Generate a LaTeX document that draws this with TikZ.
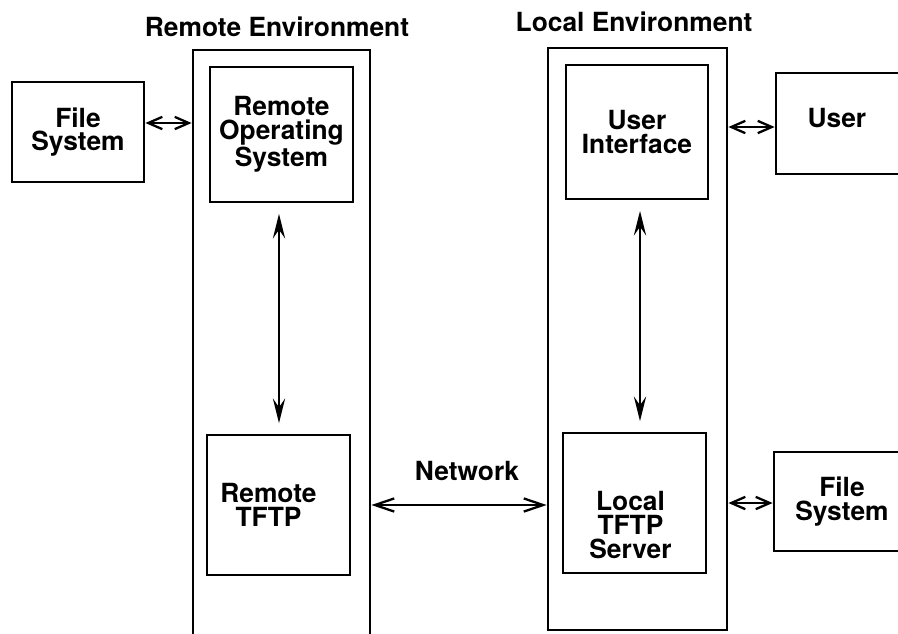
\documentclass[tikz,border=0pt]{standalone}
\usepackage{fontspec}
\setmainfont{TeX Gyre Heros}
\usetikzlibrary{arrows.meta}

\begin{document}
\begin{tikzpicture}[x=0.02cm,y=-0.02cm,
  font=\bfseries\fontsize{15}{13.5}\selectfont,
  box/.style={rectangle,draw=black,line width=1.6pt,align=center},
  envbox/.style={rectangle,draw=black,line width=1.6pt},
  pair/.style={{Straight Barb[length=8pt,width=7pt]}-{Straight Barb[length=8pt,width=7pt]},line width=1.3pt},
  wire/.style={{Straight Barb[length=11pt,width=7.5pt]}-{Straight Barb[length=11pt,width=7.5pt]},line width=1.3pt},
  pipe/.style={{Stealth[length=14pt,width=7pt,inset=5pt]}-{Stealth[length=14pt,width=7pt,inset=5pt]},line width=1.3pt,shorten <=6pt,shorten >=6pt}]
\useasboundingbox (0,0) rectangle (898,633);
% the two environments
\node[envbox,minimum width=3.54cm,minimum height=12.2cm] (remenv) at (281.5,355) {};
\node[envbox,minimum width=3.58cm,minimum height=11.64cm] (locenv) at (637.5,339) {};
\node (remtitle) at (277,27) {Remote Environment};
\node (loctitle) at (634,22) {Local Environment};
% boxes inside
\node[box,minimum width=2.86cm,minimum height=2.7cm] (ros) at (281.5,134.5) {Remote\\Operating\\System};
\node[box,minimum width=2.86cm,minimum height=2.8cm,label={[xshift=-5.7pt,align=center]center:Remote\\TFTP}] (rtftp) at (278.5,505) {};
\node[box,minimum width=2.84cm,minimum height=2.68cm] (ui) at (637,132) {User\\Interface};
\node[box,minimum width=2.86cm,minimum height=2.8cm,label={[xshift=-2.3pt,yshift=-12.5pt,align=center]center:Local\\TFTP\\Server}] (ltftp) at (634.5,503) {};
% boxes outside
\node[box,minimum width=2.64cm,minimum height=2cm] (rfs) at (78,132) {File\\System};
\node[box,minimum width=3.4cm,minimum height=2.02cm,label={[xshift=-13.7pt,yshift=3.1pt]center:User}] (user) at (861,123.5) {};
\node[box,minimum width=3.4cm,minimum height=1.98cm,label={[xshift=-9.7pt,align=center]center:File\\System}] (lfs) at (859,501.5) {};
% connections
\draw[pair] (rfs.east |- 0,123) -- (remenv.west |- 0,123);
\draw[pair] (locenv.east |- 0,127) -- (user.west |- 0,127);
\draw[pair] (locenv.east |- 0,503) -- (lfs.west |- 0,503);
\draw[pipe] (ros.south -| 279,0) -- (rtftp.north -| 279,0);
\draw[pipe] (ui.south -| 640,0) -- (ltftp.north -| 640,0);
\draw[wire] (remenv.east |- 0,505) to node[midway,above=10pt,xshift=4.5pt]{Network} (locenv.west |- 0,505);
\end{tikzpicture}
\end{document}
